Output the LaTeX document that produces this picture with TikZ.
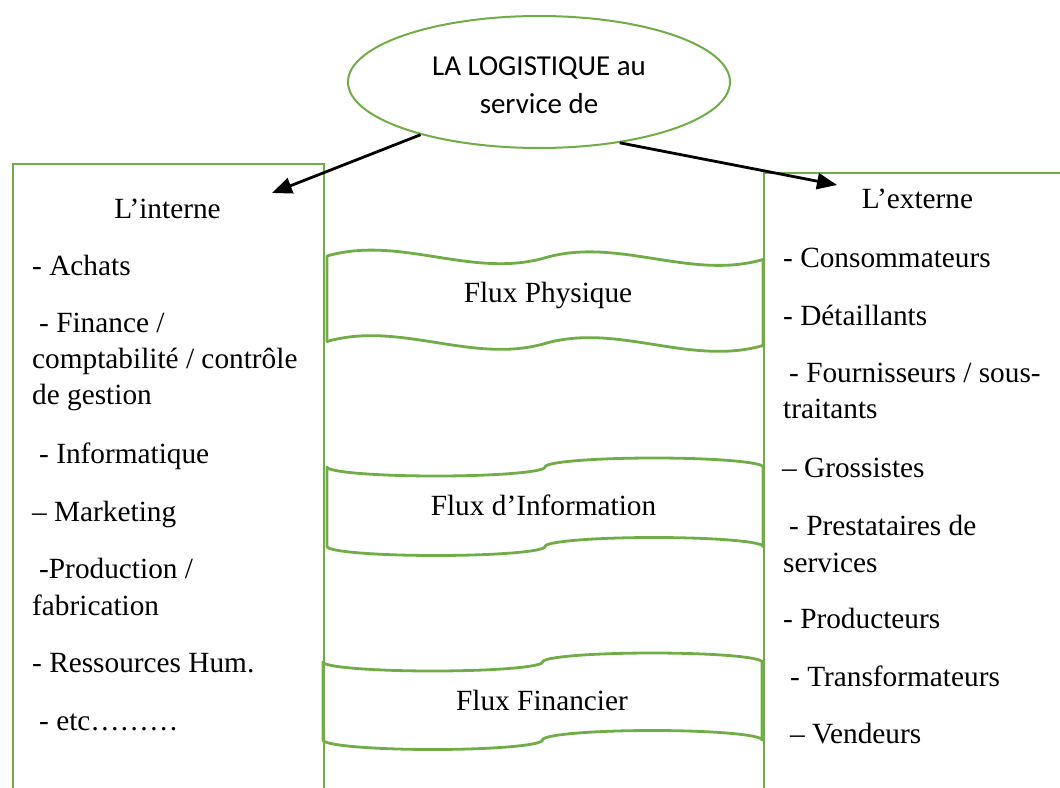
\documentclass[tikz,border=0pt]{standalone}
\usepackage{fontspec}
\setmainfont{Liberation Serif}
\newfontfamily\calfont{Carlito}
\usetikzlibrary{shapes.geometric,arrows.meta}
\definecolor{leaf}{RGB}{112,173,71}
\begin{document}
\begin{tikzpicture}[x=1pt,y=-1pt,
  frame/.style={draw=leaf, line width=2.2pt, inner sep=0pt},
  band/.style={draw=leaf, line width=2.8pt, line join=round},
  txt/.style={inner sep=0pt, font=\fontsize{29.3}{36}\selectfont},
  item/.style={txt, anchor=base west},
  title/.style={txt, anchor=base},
  arr/.style={draw=black, line width=2.8pt, -{Triangle[length=20pt,width=16pt]}}]
\useasboundingbox (0,0) rectangle (1060,787);
\clip (0,0) rectangle (1060,787);

% central ellipse
\node[ellipse, draw=leaf, line width=2pt, inner sep=0pt,
      minimum width=382pt, minimum height=132pt, align=center,
      font=\calfont\fontsize{28.9}{38}\selectfont] (logi) at (539,82)
      {\rule{0pt}{25pt}LA LOGISTIQUE au\\service de};

% the two side columns (open at the bottom)
\node[frame, anchor=north west, minimum width=311pt, minimum height=660pt] (interne) at (12,163) {};
\node[frame, anchor=north west, minimum width=320pt, minimum height=660pt] (externe) at (763,172) {};

% arrows from the ellipse to each column
\coordinate (tipL) at (272,193);
\coordinate (tipR) at (837,185);
\draw[arr] (logi.204.9) -- (tipL);
\draw[arr] (logi.323.2) -- (tipR);

% Flux Physique: double wave band
\draw[band] (327,256) .. controls (399.7,234.9) and (472.3,278.9) .. (545,257.8)
  .. controls (617.7,236.6) and (690.3,280.6) .. (763,259.5)
  -- (763,345.5)
  .. controls (690.3,366.5) and (617.7,322.5) .. (545,343.5)
  .. controls (472.3,364.5) and (399.7,320.5) .. (327,341.5) -- cycle;

% Flux d'Information: punched tape band
\draw[band] (327,467) arc[start angle=180, end angle=0, x radius=109, y radius=9]
  arc[start angle=180, end angle=360, x radius=109, y radius=9]
  -- (763,546.5)
  arc[start angle=0, end angle=-180, x radius=109, y radius=9]
  arc[start angle=0, end angle=180, x radius=109, y radius=9] -- cycle;

% Flux Financier: punched tape band
\draw[band] (323,662) arc[start angle=180, end angle=0, x radius=109.75, y radius=9]
  arc[start angle=180, end angle=360, x radius=109.75, y radius=9]
  -- (762,740)
  arc[start angle=0, end angle=-180, x radius=109.75, y radius=9.5]
  arc[start angle=0, end angle=180, x radius=109.75, y radius=9.5] -- cycle;

\node[title] (fphy) at (548,302) {Flux Physique};
\node[title] (finf) at (543.5,515) {Flux d’Information};
\node[title] (ffin) at (542,710) {Flux Financier};

% left column
\node[title] (ti) at (167.5,218) {L’interne};
\node[item] (i1) at (32,275) {- Achats};
\node[item] (i2) at (39,332) {- Finance /};
\node[item] (i3) at (32,368) {comptabilité / contrôle};
\node[item] (i4) at (32,404) {de gestion};
\node[item] (i5) at (39,463) {- Informatique};
\node[item] (i6) at (32,521) {– Marketing};
\node[item] (i7) at (39,578) {-Production /};
\node[item] (i8) at (32,615) {fabrication};
\node[item] (i9) at (32,672) {- Ressources Hum.};
\node[item] (i10) at (39,730) {- etc………};

% right column
\node[title] (te) at (917.5,208) {L’externe};
\node[item] (e1) at (783,267) {- Consommateurs};
\node[item] (e2) at (783,325) {- Détaillants};
\node[item] (e3) at (789,382) {- Fournisseurs / sous-};
\node[item] (e4) at (783,418) {traitants};
\node[item] (e5) at (782,477) {– Grossistes};
\node[item] (e6) at (789,535) {- Prestataires de};
\node[item] (e7) at (783,572) {services};
\node[item] (e8) at (783,628) {- Producteurs};
\node[item] (e9) at (790,686) {- Transformateurs};
\node[item] (e10) at (790,743) {– Vendeurs};
\end{tikzpicture}
\end{document}
